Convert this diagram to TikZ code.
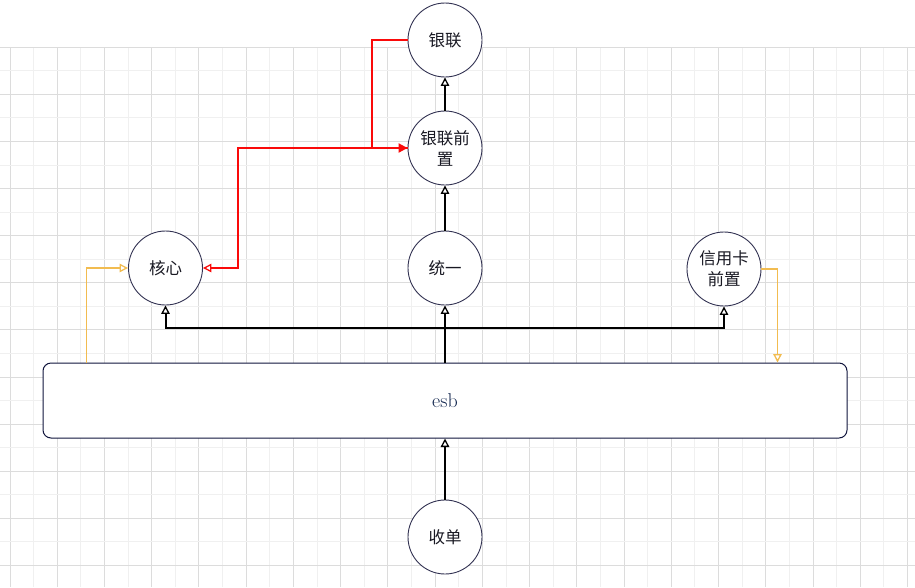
\documentclass[tikz,border=0pt]{standalone}
\usepackage{fontspec}
\newfontfamily\cjk{Noto Sans CJK SC}
\usetikzlibrary{arrows.meta}
\definecolor{gridminor}{RGB}{240,240,240}
\definecolor{gridmajor}{RGB}{220,220,220}
\definecolor{circc}{RGB}{50,50,82}
\definecolor{boxc}{RGB}{16,20,60}
\definecolor{orangec}{RGB}{242,188,80}
\definecolor{redc}{RGB}{250,10,10}
\definecolor{txtc}{RGB}{25,25,35}
\definecolor{esbc}{RGB}{20,40,80}
\begin{document}
\begin{tikzpicture}[x=1pt,y=-1pt,
  circnode/.style={circle,draw=circc,line width=0.9pt,fill=white,minimum size=74pt,inner sep=0pt,
    align=center,font=\cjk\fontsize{16.5}{21}\selectfont,text=txtc},
  boxnode/.style={rectangle,rounded corners=8pt,draw=boxc,line width=1pt,fill=white,
    minimum width=804pt,minimum height=75pt,inner sep=0pt,font=\fontsize{20}{24}\selectfont,text=esbc},
  openarrow/.style={-{Triangle[open,fill=white,length=8.5pt,width=8.5pt,line width=1.3pt]}},
  blk/.style={draw=black,line width=2pt,openarrow},
  redl/.style={draw=redc,line width=2pt,openarrow},
  redfill/.style={draw=redc,line width=2pt,-{Triangle[length=9pt,width=9pt]}},
  orl/.style={draw=orangec,line width=1.8pt,openarrow}]
\useasboundingbox (0,0) rectangle (915,587);
\fill[white] (0,0) rectangle (915,587);
% grid
\foreach \k in {0,...,38}{
  \pgfmathsetmacro{\gx}{10+23.62*\k}
  \ifodd\k
    \draw[gridminor,line width=1pt] (\gx,47) -- (\gx,587);
  \else
    \draw[gridmajor,line width=1pt] (\gx,47) -- (\gx,587);
  \fi
}
\foreach \k in {0,...,22}{
  \pgfmathsetmacro{\gy}{47.3+23.55*\k}
  \ifodd\k
    \draw[gridminor,line width=1pt] (0,\gy) -- (915,\gy);
  \else
    \draw[gridmajor,line width=1pt] (0,\gy) -- (915,\gy);
  \fi
}
% nodes
\node[circnode] (yl) at (445,40) {银联};
\node[circnode] (ylqz) at (445,148) {银联前\\置};
\node[circnode] (ty) at (445,268) {统一};
\node[circnode] (hx) at (165.5,268) {核心};
\node[circnode] (xyk) at (724,269) {信用卡\\前置};
\node[boxnode] (esb) at (445,400.5) {esb};
\node[circnode] (sd) at (445,537) {收单};
% connectors
\draw[blk] (esb.north) -- (ty.south);
\draw[blk] (esb.north) -- ++(0,-35) -| (hx.south);
\draw[blk] (esb.north) -- ++(0,-35) -| (xyk.south);
\draw[blk] (ty.north) -- (ylqz.south);
\draw[blk] (ylqz.north) -- (yl.south);
\draw[blk] (sd.north) -- (esb.south);
\draw[redl] (ylqz.west) -- ++(-170,0) |- (hx.east);
\draw[redfill] (yl.west) -- ++(-36,0) |- (ylqz.west);
\draw[orl] ([xshift=44pt]esb.north west) |- (hx.west);
\draw[orl] (xyk.east) -| ([xshift=-70pt]esb.north east);
\end{tikzpicture}
\end{document}
